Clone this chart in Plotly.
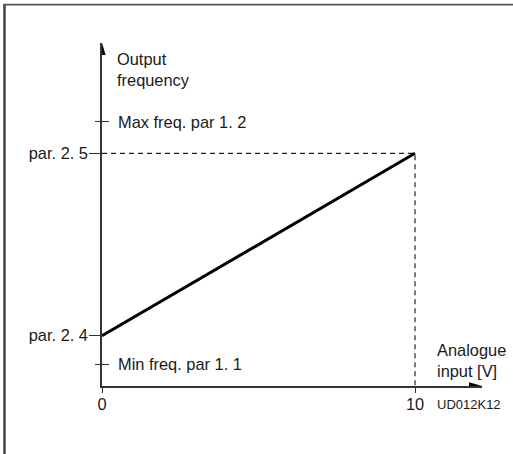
import plotly.graph_objects as go

# ---- data (arbitrary units) ----
analogue_input_v = [0, 10]                 # x: analogue input [V]
output_frequency = [2.16, 10.0]            # y: par. 2. 4 -> par. 2. 5
x_tick_vals = [0, 10]
x_tick_text = ["0", "10"]
par_tick_vals = [2.16, 10.0]
par_tick_text = ["par. 2. 4", "par. 2. 5"]
limit_tick_vals = [0.93, 11.36]
limit_tick_text = ["Min freq. par 1. 1", "Max freq. par 1. 2"]

X_MAX = 12.14
Y_MAX = 14.74
FONT = "Liberation Sans, Arial, sans-serif"
FS = 16.4
TXT = "#1a1a1a"
AX = "#333333"

fig = go.Figure()

# dashed guide lines to the end point
fig.add_trace(go.Scatter(
    x=[analogue_input_v[0], analogue_input_v[1], analogue_input_v[1]],
    y=[output_frequency[1], output_frequency[1], 0],
    mode="lines", line=dict(color="#222222", width=1.2, dash="5px,4px"),
    hoverinfo="skip", showlegend=False))

# characteristic line
fig.add_trace(go.Scatter(
    x=analogue_input_v, y=output_frequency, mode="lines",
    line=dict(color="#000000", width=3), hoverinfo="skip", showlegend=False))

# invisible trace to carry the secondary y axis (inside tick marks)
fig.add_trace(go.Scatter(
    x=[0, 0], y=limit_tick_vals, yaxis="y2", mode="markers",
    marker=dict(opacity=0), hoverinfo="skip", showlegend=False))

fig.update_layout(
    width=513, height=454,
    margin=dict(l=102, r=31, t=43, b=68, autoexpand=False),
    paper_bgcolor="white", plot_bgcolor="white",
    font=dict(family=FONT, size=FS, color=TXT),
    xaxis=dict(range=[0, X_MAX], showgrid=False, zeroline=False,
               showline=True, linecolor=AX, linewidth=1.5,
               tickmode="array", tickvals=x_tick_vals, ticktext=x_tick_text,
               ticks="outside", ticklen=5, tickwidth=1.2, tickcolor=AX,
               tickfont=dict(family=FONT, size=FS, color=TXT),
               ticklabelstandoff=-2, automargin=False, fixedrange=True),
    yaxis=dict(range=[0, Y_MAX], showgrid=False, zeroline=False,
               showline=True, linecolor=AX, linewidth=1.5,
               tickmode="array", tickvals=par_tick_vals, ticktext=par_tick_text,
               ticks="outside", ticklen=11, tickwidth=1.2, tickcolor=AX,
               tickfont=dict(family=FONT, size=FS, color=TXT),
               ticklabelstandoff=-2,
               minor=dict(tickmode="array", tickvals=limit_tick_vals,
                          ticks="outside", ticklen=5, tickwidth=1.2,
                          tickcolor=AX, showgrid=False),
               automargin=False, fixedrange=True),
    yaxis2=dict(range=[0, Y_MAX], overlaying="y", side="left", anchor="x",
                showgrid=False, zeroline=False, showline=False,
                tickmode="array", tickvals=limit_tick_vals,
                showticklabels=False,
                ticks="inside", ticklen=7, tickwidth=1.2, tickcolor=AX,
                automargin=False, fixedrange=True),
)

# labels of the frequency limits, placed at their y values right of the axis
for val, txt in zip(limit_tick_vals, limit_tick_text):
    fig.add_annotation(text=txt, xref="x", yref="y", x=0, y=val,
                       xanchor="left", yanchor="middle", xshift=14,
                       showarrow=False,
                       font=dict(family=FONT, size=FS, color=TXT))

# arrow heads at the axis ends
fig.add_shape(type="path", xref="x", yref="y", xsizemode="pixel",
              ysizemode="pixel", xanchor=0, yanchor=Y_MAX,
              path="M -3.7 -12 L 3.7 -12 L 0 0 Z",
              fillcolor="#000000", line=dict(width=0))
fig.add_shape(type="path", xref="x", yref="y", xsizemode="pixel",
              ysizemode="pixel", xanchor=X_MAX, yanchor=0,
              path="M -13 -3.7 L -13 3.7 L 0 0 Z",
              fillcolor="#000000", line=dict(width=0))

# frame of the figure (left and top edges)
fig.add_shape(type="line", xref="paper", yref="paper",
              x0=-0.2566, x1=-0.2566, y0=1.112, y1=-0.25,
              line=dict(color="#444444", width=2.5))
fig.add_shape(type="line", xref="paper", yref="paper",
              x0=-0.26, x1=1.1, y0=1.112, y1=1.112,
              line=dict(color="#555555", width=1.6))

def label(text, px, py, size=FS, anchor="left"):
    fig.add_annotation(text=text, xref="paper", yref="paper",
                       x=(px - 102) / 380, y=(386 - py) / 343,
                       xanchor=anchor, yanchor="middle", showarrow=False,
                       align="left",
                       font=dict(family=FONT, size=size, color=TXT))

label("Output<br>frequency", 115, 69)
label("Analogue<br>input [V]", 435, 360.5)
label("UD012K12", 435, 404.5, size=13)

fig.write_html("out.html", config={"displayModeBar": False},
               post_script="document.body.style.margin='0';")
